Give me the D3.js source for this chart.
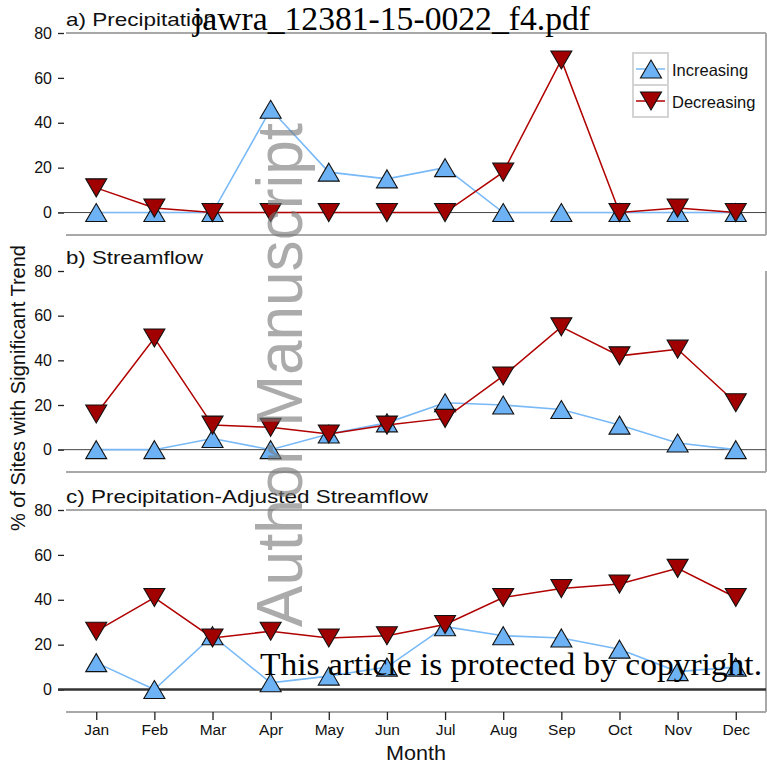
<!DOCTYPE html>
<html>
<head>
<meta charset="utf-8">
<script src="https://cdn.jsdelivr.net/npm/d3@7"></script>
<style>
  html, body { margin: 0; padding: 0; background: #fff; }
  svg { display: block; }
</style>
</head>
<body>
<svg id="chart" width="767" height="764"></svg>
<script>
const months = ["Jan","Feb","Mar","Apr","May","Jun","Jul","Aug","Sep","Oct","Nov","Dec"];
const yTicks = [0, 20, 40, 60, 80];
const panelTitles = ["a) Precipitation", "b) Streamflow", "c) Precipitation-Adjusted Streamflow"];
const seriesNames = ["Increasing", "Decreasing"];

const precipIncreasing = [0, 0, 0, 46, 18, 15, 20, 0, 0, 0, 0, 0];
const precipDecreasing = [11, 2, 0, 0, 0, 0, 0, 18, 68, 0, 2, 0];
const flowIncreasing   = [0, 0, 5, 0, 7, 12, 21, 20, 18, 11, 3, 0];
const flowDecreasing   = [16, 50, 11, 10, 7, 11, 14, 33, 55, 42, 45, 21];
const adjIncreasing    = [12, 0, 24, 3, 6, 10, 28, 24, 23, 18, 8, 10];
const adjDecreasing    = [26, 41, 23, 26, 23, 24, 29, 41, 45, 47, 54, 41];

const panels = [
  { title: panelTitles[0], inc: precipIncreasing, dec: precipDecreasing, top: 33, bottom: 235, topBorder: true, titleLen: 150, zeroW: 1 },
  { title: panelTitles[1], inc: flowIncreasing, dec: flowDecreasing, top: 271, bottom: 472, topBorder: false, titleLen: 137, zeroW: 1 },
  { title: panelTitles[2], inc: adjIncreasing, dec: adjDecreasing, top: 510, bottom: 712, topBorder: true, titleLen: 362, zeroW: 2.5 }
];

const BLUE_FILL = "#6cb2f5", BLUE_LINE = "#78b9f7";
const RED_FILL = "#a00000", RED_LINE = "#b00000";
const SANS = "'Liberation Sans', Arial, sans-serif";
const SERIF = "'Liberation Serif', 'DejaVu Serif', serif";

const svg = d3.select("#chart");
const left = 66, right = 766;

const x = d3.scalePoint().domain(months).range([left, right]).padding(0.52);

const triW = 21, triH = 18;
const upTri = `M0,${-triH/2}L${triW/2},${triH/2}L${-triW/2},${triH/2}Z`;
const downTri = `M0,${triH/2}L${triW/2},${-triH/2}L${-triW/2},${-triH/2}Z`;

panels.forEach((p, pi) => {
  const y = d3.scaleLinear().domain([-10, 80]).range([p.bottom, p.top]);
  const g = svg.append("g");

  const borderStyle = s => s.attr("stroke", "#a8a8a8").attr("stroke-width", 2).attr("fill", "none");
  if (p.topBorder) g.append("line").attr("x1", left).attr("x2", right).attr("y1", p.top).attr("y2", p.top).call(borderStyle);
  g.append("line").attr("x1", left).attr("x2", right).attr("y1", p.bottom).attr("y2", p.bottom).call(borderStyle);
  g.append("line").attr("x1", right).attr("x2", right).attr("y1", p.top).attr("y2", p.bottom).call(borderStyle);

  const yAxis = d3.axisLeft(y).tickValues(yTicks).tickSize(6).tickPadding(6).tickFormat(d3.format("d"));
  const ya = g.append("g").attr("transform", `translate(${left - 2},0)`).call(yAxis);
  ya.select(".domain").remove();
  ya.selectAll(".tick line").attr("stroke", "#222").attr("stroke-width", 1.3);
  ya.selectAll(".tick text").attr("font-family", SANS).attr("font-size", 16).attr("fill", "#111");

  g.append("line").attr("x1", left - 8).attr("x2", right).attr("y1", y(0)).attr("y2", y(0))
    .attr("stroke", pi === 2 ? "#333" : "#444").attr("stroke-width", p.zeroW);

  g.append("text").attr("x", left).attr("y", p.top - 7)
    .attr("font-family", SANS).attr("font-size", 19).attr("fill", "#111")
    .attr("textLength", p.titleLen).attr("lengthAdjust", "spacingAndGlyphs")
    .text(p.title);

  const line = d3.line().x((d, i) => x(months[i])).y(d => y(d));

  g.append("path").datum(p.inc).attr("d", line).attr("fill", "none").attr("stroke", BLUE_LINE).attr("stroke-width", 1.6);
  g.selectAll(".inc").data(p.inc).enter().append("path")
    .attr("transform", (d, i) => `translate(${x(months[i])},${y(d)})`)
    .attr("d", upTri).attr("fill", BLUE_FILL).attr("stroke", "#111").attr("stroke-width", 1.1);

  g.append("path").datum(p.dec).attr("d", line).attr("fill", "none").attr("stroke", RED_LINE).attr("stroke-width", 1.5);
  g.selectAll(".dec").data(p.dec).enter().append("path")
    .attr("transform", (d, i) => `translate(${x(months[i])},${y(d)})`)
    .attr("d", downTri).attr("fill", RED_FILL).attr("stroke", "#111").attr("stroke-width", 1.1);

  if (pi === 2) {
    const xAxis = d3.axisBottom(x).tickSize(8).tickPadding(4);
    const xa = g.append("g").attr("transform", `translate(0,${p.bottom})`).call(xAxis);
    xa.select(".domain").remove();
    xa.selectAll(".tick line").attr("stroke", "#222").attr("stroke-width", 1.3);
    xa.selectAll(".tick text").attr("font-family", SANS).attr("font-size", 15.5).attr("fill", "#111").attr("dy", "0.71em");
  }
});

svg.append("text").attr("x", 416).attr("y", 760).attr("text-anchor", "middle")
  .attr("font-family", SANS).attr("font-size", 19.5).attr("fill", "#111")
  .attr("textLength", 60).attr("lengthAdjust", "spacingAndGlyphs").text("Month");
svg.append("text").attr("transform", "translate(25,388) rotate(-90)").attr("text-anchor", "middle")
  .attr("font-family", SANS).attr("font-size", 20).attr("fill", "#111")
  .attr("textLength", 286).attr("lengthAdjust", "spacingAndGlyphs").text("% of Sites with Significant Trend");

const lg = svg.append("g");
const lx0 = 633, lx1 = 668, ly0 = 53, ly1 = 117, lmid = 85;
lg.append("rect").attr("x", lx0).attr("y", ly0).attr("width", lx1 - lx0).attr("height", ly1 - ly0)
  .attr("fill", "#fff").attr("stroke", "#d4d4d4").attr("stroke-width", 2);
lg.append("line").attr("x1", lx0).attr("x2", lx1).attr("y1", lmid).attr("y2", lmid).attr("stroke", "#d4d4d4").attr("stroke-width", 2);
const legendItems = [
  { name: seriesNames[0], cy: 69, line: BLUE_LINE, fill: BLUE_FILL, shape: upTri, ty: 76 },
  { name: seriesNames[1], cy: 101, line: RED_LINE, fill: RED_FILL, shape: downTri, ty: 108 }
];
legendItems.forEach(it => {
  lg.append("line").attr("x1", lx0 + 3).attr("x2", lx1 - 3).attr("y1", it.cy).attr("y2", it.cy).attr("stroke", it.line).attr("stroke-width", 1.5);
  lg.append("path").attr("transform", `translate(651,${it.cy})`).attr("d", it.shape)
    .attr("fill", it.fill).attr("stroke", "#111").attr("stroke-width", 1.1);
  lg.append("text").attr("x", 672).attr("y", it.ty).attr("font-family", SANS).attr("font-size", 16.5)
    .attr("fill", "#111").text(it.name);
});

svg.append("text").attr("transform", "translate(302,375) rotate(-90)").attr("text-anchor", "middle")
  .attr("font-family", SANS).attr("font-size", 64).attr("fill", "#777").attr("fill-opacity", 0.62)
  .attr("textLength", 504).attr("lengthAdjust", "spacingAndGlyphs").text("Author Manuscript");
svg.append("text").attr("x", 193).attr("y", 30)
  .attr("font-family", SERIF).attr("font-size", 33).attr("fill", "#000")
  .attr("textLength", 397).attr("lengthAdjust", "spacingAndGlyphs").text("jawra_12381-15-0022_f4.pdf");
svg.append("text").attr("x", 260).attr("y", 675)
  .attr("font-family", SERIF).attr("font-size", 32).attr("fill", "#000")
  .attr("textLength", 502).attr("lengthAdjust", "spacingAndGlyphs").text("This article is protected by copyright.");
</script>
</body>
</html>
